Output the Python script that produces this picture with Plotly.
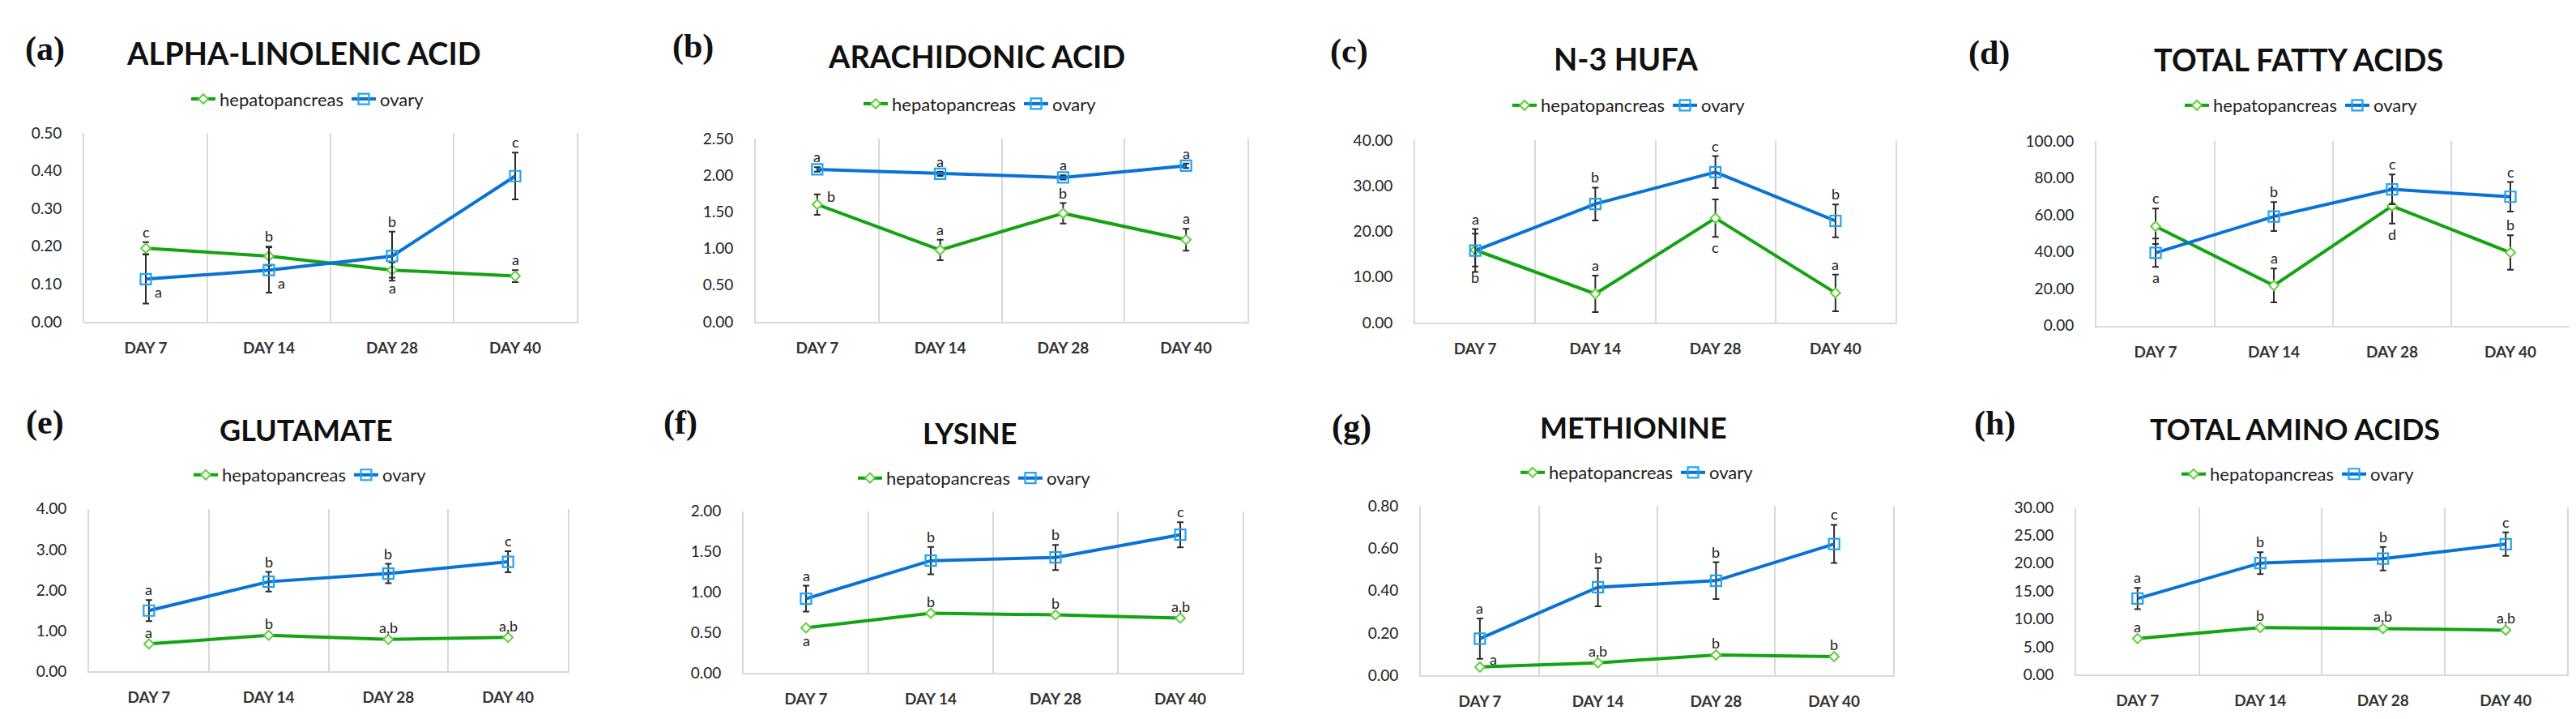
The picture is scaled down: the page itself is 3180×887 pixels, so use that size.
import plotly.graph_objects as go

# ---------------- data ----------------
days = ["DAY 7", "DAY 14", "DAY 28", "DAY 40"]
series_names = ["hepatopancreas", "ovary"]

titles = ["ALPHA-LINOLENIC ACID", "ARACHIDONIC ACID", "N-3 HUFA", "TOTAL FATTY ACIDS",
          "GLUTAMATE", "LYSINE", "METHIONINE", "TOTAL AMINO ACIDS"]
panel_tags = ["(a)", "(b)", "(c)", "(d)", "(e)", "(f)", "(g)", "(h)"]

ala_hep = [0.195, 0.174, 0.137, 0.121]
ala_hep_err = [0.016, 0.025, 0.020, 0.016]
ala_ov = [0.113, 0.137, 0.174, 0.386]
ala_ov_err = [0.065, 0.060, 0.065, 0.062]
ala_hep_let = ["c", "b", "a", "a"]
ala_ov_let = ["a", "a", "b", "c"]

ara_hep = [1.60, 0.98, 1.48, 1.12]
ara_hep_err = [0.14, 0.14, 0.14, 0.15]
ara_ov = [2.08, 2.02, 1.97, 2.13]
ara_ov_err = [0.03, 0.03, 0.03, 0.03]
ara_hep_let = ["b", "a", "b", "a"]
ara_ov_let = ["a", "a", "a", "a"]

hufa_hep = [15.9, 6.3, 22.9, 6.5]
hufa_hep_err = [3.6, 4.0, 4.1, 4.0]
hufa_ov = [15.8, 26.0, 33.0, 22.3]
hufa_ov_err = [4.7, 3.6, 3.5, 3.6]
hufa_hep_let = ["b", "a", "c", "a"]
hufa_ov_let = ["a", "b", "c", "b"]

tfa_hep = [53.8, 21.8, 64.8, 39.6]
tfa_hep_err = [9.6, 9.2, 9.5, 9.3]
tfa_ov = [39.5, 59.1, 73.8, 69.8]
tfa_ov_err = [7.7, 7.8, 8.1, 8.0]
tfa_hep_let = ["c", "a", "d", "b"]
tfa_ov_let = ["a", "b", "c", "c"]

glu_hep = [0.68, 0.89, 0.79, 0.84]
glu_hep_err = [0.03, 0.03, 0.03, 0.03]
glu_ov = [1.50, 2.21, 2.41, 2.70]
glu_ov_err = [0.26, 0.24, 0.24, 0.26]
glu_hep_let = ["a", "b", "a,b", "a,b"]
glu_ov_let = ["a", "b", "b", "c"]

lys_hep = [0.56, 0.74, 0.72, 0.68]
lys_hep_err = [0.02, 0.02, 0.02, 0.02]
lys_ov = [0.92, 1.39, 1.43, 1.71]
lys_ov_err = [0.16, 0.17, 0.155, 0.155]
lys_hep_let = ["a", "b", "b", "a,b"]
lys_ov_let = ["a", "b", "b", "c"]

met_hep = [0.040, 0.060, 0.097, 0.089]
met_hep_err = [0.008, 0.008, 0.008, 0.008]
met_ov = [0.174, 0.416, 0.447, 0.620]
met_ov_err = [0.095, 0.090, 0.087, 0.090]
met_hep_let = ["a", "a,b", "b", "b"]
met_ov_let = ["a", "b", "b", "c"]

taa_hep = [6.47, 8.46, 8.27, 7.98]
taa_hep_err = [0.3, 0.3, 0.3, 0.3]
taa_ov = [13.65, 20.0, 20.8, 23.4]
taa_ov_err = [1.9, 1.95, 2.1, 2.1]
taa_hep_let = ["a", "b", "a,b", "a,b"]
taa_ov_let = ["a", "b", "b", "c"]

y_max = [0.5, 2.5, 40, 100, 4, 2, 0.8, 30]
y_step = [0.1, 0.5, 10, 20, 1, 0.5, 0.2, 5]

panels = [
    (ala_hep, ala_hep_err, ala_ov, ala_ov_err, ala_hep_let, ala_ov_let),
    (ara_hep, ara_hep_err, ara_ov, ara_ov_err, ara_hep_let, ara_ov_let),
    (hufa_hep, hufa_hep_err, hufa_ov, hufa_ov_err, hufa_hep_let, hufa_ov_let),
    (tfa_hep, tfa_hep_err, tfa_ov, tfa_ov_err, tfa_hep_let, tfa_ov_let),
    (glu_hep, glu_hep_err, glu_ov, glu_ov_err, glu_hep_let, glu_ov_let),
    (lys_hep, lys_hep_err, lys_ov, lys_ov_err, lys_hep_let, lys_ov_let),
    (met_hep, met_hep_err, met_ov, met_ov_err, met_hep_let, met_ov_let),
    (taa_hep, taa_hep_err, taa_ov, taa_ov_err, taa_hep_let, taa_ov_let),
]

# ---------------- layout (pixels) ----------------
W, H = 3180, 887
# plot area: x0, x1, ytop, ybottom
plot_px = [(96, 704, 148, 387), (925, 1532, 155, 387), (1739, 2332, 157, 388), (2580, 3164, 158, 392),
           (102, 693, 624, 830), (910, 1526, 627, 832), (1746, 2329, 620, 835), (2555, 3161, 622, 834)]
tag_px = [(47, 42), (847, 38), (1657, 45), (2447, 47), (47, 515), (832, 515), (1660, 520), (2454, 516)]
title_px = [(367, 46), (1197, 50), (1999, 53), (2829, 54), (370, 524), (1189, 528), (2008, 521), (2825, 523)]
title_size = [38, 38, 38, 38, 36, 36, 36, 36]
legend_px = [(372, 105), (1202, 111), (2003, 113), (2833, 113), (375, 581), (1195, 585), (2013, 578), (2829, 580)]

# letter placement exceptions: (panel, series, index) -> mode
letter_mode = {
    (0, 0, 2): "below", (0, 1, 0): "right_below", (0, 1, 1): "right_below",
    (1, 0, 0): "right_above",
    (2, 0, 0): "below", (2, 0, 2): "below",
    (3, 0, 2): "below", (3, 1, 0): "below",
    (5, 0, 0): "below",
    (6, 0, 0): "right_above",
}

HEP_LINE = "#13a313"
HEP_MARK = "#5fcf3a"
OV_LINE = "#0a72d6"
OV_MARK = "#22a3ee"
GRID = "#d9d9d9"
FONT = "Lato"

def px_x(p):
    return p / W

def px_y(p):
    return 1 - p / H

fig = go.Figure()
annotations = []
layout = dict(width=W, height=H, margin=dict(l=0, r=0, t=0, b=0),
              paper_bgcolor="white", plot_bgcolor="white", showlegend=True,
              font=dict(family=FONT, color="#222"))

for i, (hep, hep_err, ov, ov_err, hep_let, ov_let) in enumerate(panels):
    n = i + 1
    sfx = "" if n == 1 else str(n)
    xa, ya = "x" + sfx, "y" + sfx
    leg = "legend" + sfx
    x0, x1, yt, yb = plot_px[i]

    fig.add_trace(go.Scatter(
        x=days, y=hep, name=series_names[0], mode="lines+markers",
        xaxis=xa, yaxis=ya, legend=leg,
        line=dict(color=HEP_LINE, width=4),
        marker=dict(symbol="diamond", size=9, color="white", line=dict(color=HEP_MARK, width=2)),
        error_y=dict(type="data", array=hep_err, visible=True, color="#2a2a2a", thickness=2, width=4),
    ))
    fig.add_trace(go.Scatter(
        x=days, y=ov, name=series_names[1], mode="lines+markers",
        xaxis=xa, yaxis=ya, legend=leg,
        line=dict(color=OV_LINE, width=4),
        marker=dict(symbol="square-open", size=13, color=OV_MARK, line=dict(color=OV_MARK, width=2.2)),
        error_y=dict(type="data", array=ov_err, visible=True, color="#2a2a2a", thickness=2, width=4),
    ))

    layout["xaxis" + sfx] = dict(
        domain=[px_x(x0), px_x(x1)], anchor=ya, type="category",
        categoryorder="array", categoryarray=days, range=[-0.5, 3.5],
        tickson="boundaries", ticks="", showgrid=True, gridcolor=GRID, gridwidth=2,
        showline=True, linecolor=GRID, linewidth=2, zeroline=False,
        tickfont=dict(family=FONT, size=19, color="#333", weight="bold"),
        ticklabelstandoff=14, fixedrange=True,
    )
    layout["yaxis" + sfx] = dict(
        domain=[px_y(yb), px_y(yt)], anchor=xa, range=[0, y_max[i]],
        tick0=0, dtick=y_step[i], tickformat=".2f", showgrid=False, zeroline=False,
        showline=True, mirror=True, linecolor=GRID, linewidth=2, ticks="",
        tickfont=dict(family=FONT, size=19, color="#222"),
        ticklabelstandoff=22, fixedrange=True,
    )
    lx, ly = legend_px[i]
    layout[leg] = dict(
        orientation="h", x=px_x(lx), y=px_y(ly), xanchor="center", yanchor="middle",
        font=dict(family=FONT, size=22, color="#222"), bgcolor="rgba(0,0,0,0)",
        itemclick=False, itemdoubleclick=False,
    )

    tx, ty = tag_px[i]
    annotations.append(dict(text="<b>" + panel_tags[i] + "</b>", xref="paper", yref="paper",
                            x=px_x(tx), y=px_y(ty),
                            xanchor="center", yanchor="middle", showarrow=False,
                            font=dict(family="Liberation Serif", size=42, color="#111")))
    tix, tiy = title_px[i]
    annotations.append(dict(text="<b>" + titles[i] + "</b>", xref="paper", yref="paper",
                            x=px_x(tix), y=px_y(tiy), xanchor="center", yanchor="middle",
                            showarrow=False, font=dict(family=FONT, size=title_size[i], color="#111")))

    for s, (vals, errs, lets) in enumerate([(hep, hep_err, hep_let), (ov, ov_err, ov_let)]):
        for k in range(len(days)):
            mode = letter_mode.get((i, s, k), "above")
            if mode == "above":
                yv, xs, ys = vals[k] + errs[k], 0, 13
            elif mode == "below":
                yv, xs, ys = vals[k] - errs[k], 0, -13
            elif mode == "right_below":
                yv, xs, ys = vals[k], 15, -16
            else:
                yv, xs, ys = vals[k], 17, 10
            annotations.append(dict(text=lets[k], xref=xa, yref=ya, x=days[k], y=yv,
                                    xshift=xs, yshift=ys, xanchor="center", yanchor="middle",
                                    showarrow=False,
                                    font=dict(family=FONT, size=18, color="#222")))

layout["annotations"] = annotations
fig.update_layout(**layout)
fig.write_html("out.html")
